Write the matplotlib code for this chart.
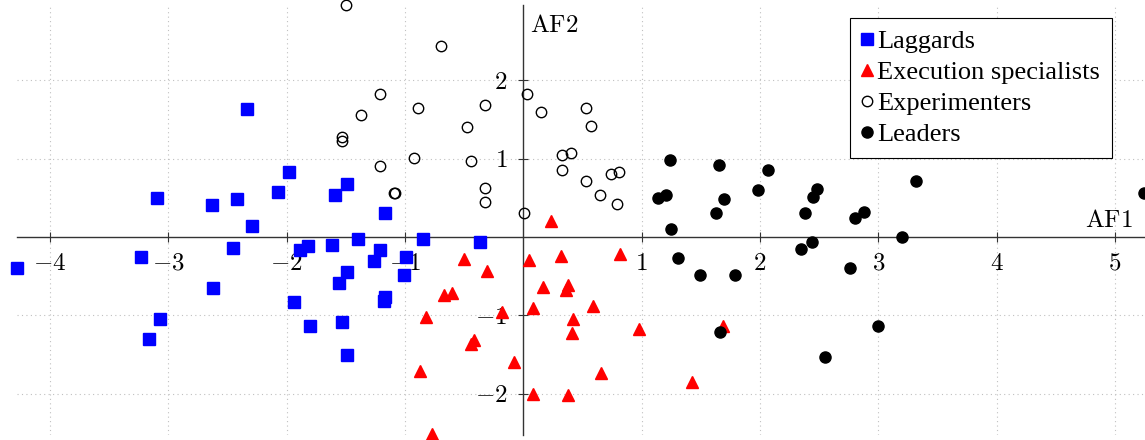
import numpy as np
import matplotlib
matplotlib.use("Agg")
from matplotlib import pyplot as plt

plt.rcParams['mathtext.fontset'] = 'cm'
plt.rcParams['font.family'] = ['Liberation Serif', 'DejaVu Serif']

# factor scores (AF1, AF2)
laggards_x = [-2.34, -3.10, -2.63, -2.42, -2.07, -1.98, -1.59, -1.49, -1.17, -2.29,
              -4.28, -3.23, -2.45, -2.62, -3.07, -3.16, -1.89, -1.82, -1.62, -1.40,
              -1.21, -1.26, -1.49, -1.56, -1.94, -1.17, -1.18, -1.80, -1.53, -1.49,
              -0.85, -0.37, -0.99, -1.01]
laggards_y = [1.63, 0.50, 0.41, 0.49, 0.57, 0.83, 0.54, 0.67, 0.30, 0.14,
              -0.39, -0.26, -0.14, -0.65, -1.04, -1.30, -0.16, -0.12, -0.10, -0.02,
              -0.17, -0.31, -0.45, -0.59, -0.83, -0.77, -0.82, -1.13, -1.08, -1.51,
              -0.03, -0.07, -0.26, -0.48]

exec_x = [0.23, -0.50, -0.31, 0.05, 0.32, 0.82, -0.67, -0.60, 0.17, 0.38,
          0.36, -0.18, 0.085, 0.59, -0.82, 0.42, 0.41, 0.98, 1.69, -0.42,
          -0.44, -0.08, -0.87, 0.66, 1.43, 0.08, 0.375, -0.77]
exec_y = [0.21, -0.28, -0.43, -0.29, -0.24, -0.22, -0.74, -0.71, -0.64, -0.61,
          -0.68, -0.95, -0.90, -0.88, -1.02, -1.05, -1.22, -1.17, -1.14, -1.31,
          -1.37, -1.59, -1.71, -1.74, -1.85, -2.00, -2.02, -2.51]

exper_x = [-1.50, -1.21, -1.37, -1.53, -1.535, -1.21, -1.09, -1.085, -0.70, -0.89,
           -0.32, -0.48, -0.92, -0.44, -0.32, -0.32, 0.006, 0.03, 0.15, 0.53,
           0.57, 0.33, 0.40, 0.33, 0.53, 0.74, 0.81, 0.65, 0.79]
exper_y = [2.96, 1.83, 1.56, 1.28, 1.22, 0.90, 0.56, 0.565, 2.43, 1.64,
           1.68, 1.40, 1.01, 0.97, 0.62, 0.45, 0.30, 1.82, 1.59, 1.65,
           1.41, 1.04, 1.07, 0.86, 0.72, 0.80, 0.83, 0.54, 0.42]

lead_x = [1.24, 1.14, 1.21, 1.65, 1.70, 1.63, 1.98, 2.07, 1.25, 1.31,
          1.49, 1.79, 1.66, 2.48, 2.45, 2.38, 2.80, 2.88, 3.32, 5.25,
          3.20, 2.44, 2.35, 2.76, 3.00, 2.55]
lead_y = [0.98, 0.50, 0.53, 0.92, 0.49, 0.30, 0.60, 0.85, 0.10, -0.27,
          -0.48, -0.48, -1.21, 0.61, 0.51, 0.30, 0.24, 0.32, 0.71, 0.56,
          0.00, -0.07, -0.15, -0.39, -1.14, -1.53]

xticks = [-4, -3, -2, -1, 1, 2, 3, 4, 5]
yticks = [-2, -1, 1, 2]

W, H = 1145, 440
fig = plt.figure(figsize=(W / 100, H / 100), dpi=100)
ax = fig.add_axes([17 / W, 4.6 / H, 1127.4 / W, 430.5 / H])
ax.set_xlim(-4.28, 5.25)
ax.set_ylim(-2.53, 2.96)

ax.plot(laggards_x, laggards_y, 's', color='blue', markersize=8, clip_on=False,
        label='Laggards', zorder=3)
ax.plot(exec_x, exec_y, '^', color='red', markersize=8, clip_on=False,
        label='Execution specialists', zorder=3)
ax.plot(exper_x, exper_y, 'o', markerfacecolor='none', markeredgecolor='black',
        markeredgewidth=1.0, markersize=7.5, clip_on=False, label='Experimenters', zorder=3)
ax.plot(lead_x, lead_y, 'o', color='black', markersize=8, clip_on=False,
        label='Leaders', zorder=3)

for s in ['top', 'right']:
    ax.spines[s].set_visible(False)
for s in ['left', 'bottom']:
    ax.spines[s].set_position(('data', 0))
    ax.spines[s].set_color('#333333')
    ax.spines[s].set_linewidth(1.0)

ax.set_axisbelow(True)
ax.set_xticks(xticks)
ax.set_xticklabels([f'${v}$' for v in xticks])
ax.set_yticks(yticks)
ax.set_yticklabels([f'${v}$' for v in yticks])
ax.tick_params(direction='inout', length=7, width=0.8, color='#333333', labelsize=18)
ax.tick_params(axis='x', pad=8)
ax.tick_params(axis='y', pad=8)
ax.grid(True, linestyle=(0, (1, 3)), color='#c0c0c0', linewidth=0.8)

ax.text(0.06, 2.83, r'$\mathrm{AF2}$', fontsize=18, ha='left', va='top')
ax.text(5.15, 0.06, r'$\mathrm{AF1}$', fontsize=18, ha='right', va='bottom')

leg = ax.legend(loc='upper right', bbox_to_anchor=(1112 / W, 1 - 18 / H),
                bbox_transform=fig.transFigure, fontsize=19, frameon=True,
                fancybox=False, edgecolor='black', framealpha=1, borderaxespad=0,
                handlelength=0.45, handletextpad=0.15, borderpad=0.45, labelspacing=0.28)
leg.get_frame().set_linewidth(0.8)

fig.savefig('out.png', dpi=100)
